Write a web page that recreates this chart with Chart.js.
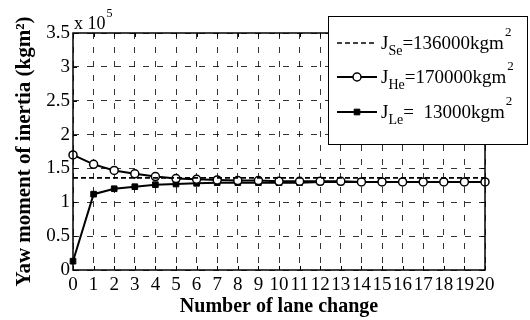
<!DOCTYPE html>
<html>
<head>
<meta charset="utf-8">
<script src="https://cdn.jsdelivr.net/npm/chart.js@4.4.0/dist/chart.umd.min.js"></script>
<style>
html,body{margin:0;padding:0;background:#fff}
</style>
</head>
<body>
<canvas id="myChart" width="530" height="320"></canvas>
<script>
// values in units of 10^5 kgm^2
var laneChanges = [0,1,2,3,4,5,6,7,8,9,10,11,12,13,14,15,16,17,18,19,20];
var jSe = [1.36,1.36,1.36,1.36,1.36,1.36,1.36,1.36,1.36,1.36,1.36,1.36,1.36,1.36,1.36,1.36,1.36,1.36,1.36,1.36,1.36];
var jHe = [1.70,1.56,1.47,1.42,1.38,1.35,1.34,1.33,1.32,1.32,1.31,1.31,1.31,1.31,1.30,1.30,1.30,1.30,1.30,1.30,1.30];
var jLe = [0.13,1.12,1.20,1.23,1.26,1.27,1.28,1.29,1.29,1.29,1.29,1.29,1.30,1.30,1.30,1.30,1.30,1.30,1.30,1.30,1.30];
var yTickLabels = ['0','0.5','1','1.5','2','2.5','3','3.5'];
var legendSubs = ['Se','He','Le'];
var legendRest = ['=136000kgm','=170000kgm','=  13000kgm'];

var serif = '"Liberation Serif", "Times New Roman", serif';
Chart.defaults.font.family = serif;
var ctx = document.getElementById('myChart').getContext('2d');

// box, inner ticks, legend and exponent label (matlab style)
var extras = {
    id: 'extras',
    afterDraw: function(chart){
        var c = chart.ctx, a = chart.chartArea;
        var xs = chart.scales.x, ys = chart.scales.y;
        c.save();
        c.strokeStyle = '#000';
        c.lineWidth = 1;
        c.setLineDash([]);
        c.beginPath();
        xs.ticks.forEach(function(t, i){
            var px = Math.round(xs.getPixelForTick(i)) + 0.5;
            c.moveTo(px, a.bottom); c.lineTo(px, a.bottom - 4);
            c.moveTo(px, a.top); c.lineTo(px, a.top + 4);
        });
        ys.ticks.forEach(function(t, i){
            var py = Math.round(ys.getPixelForTick(i)) + 0.5;
            c.moveTo(a.left, py); c.lineTo(a.left + 4, py);
            c.moveTo(a.right, py); c.lineTo(a.right - 4, py);
        });
        c.stroke();
        c.lineWidth = 1.5;
        c.strokeRect(a.left, a.top, a.right - a.left, a.bottom - a.top);

        // exponent
        c.fillStyle = '#000';
        c.textBaseline = 'alphabetic';
        c.font = '18px ' + serif;
        c.fillText('x 10', a.left + 1, a.top - 4);
        var w = c.measureText('x 10').width;
        c.font = '12px ' + serif;
        c.fillText('5', a.left + 1 + w + 1, a.top - 16);

        // legend
        var bx = 328, by = 16, bw = 199, bh = 128;
        c.fillStyle = '#fff';
        c.fillRect(bx, by, bw, bh);
        c.lineWidth = 1;
        c.strokeRect(bx + 0.5, by + 0.5, bw, bh);
        var rows = [43, 77, 112];
        chart.data.datasets.forEach(function(ds, i){
            var y = rows[i];
            c.save();
            c.strokeStyle = '#000';
            c.lineWidth = ds.borderWidth;
            c.setLineDash(ds.borderDash || []);
            c.beginPath();
            c.moveTo(337, y); c.lineTo(377, y);
            c.stroke();
            c.restore();
            if (ds.pointRadius > 0) {
                c.fillStyle = ds.pointBackgroundColor;
                c.strokeStyle = '#000';
                c.lineWidth = ds.pointBorderWidth;
                c.beginPath();
                if (ds.pointStyle === 'rect') {
                    var s = ds.pointRadius * Math.SQRT1_2;
                    c.rect(357 - s, y - s, 2 * s, 2 * s);
                } else {
                    c.arc(357, y, ds.pointRadius, 0, Math.PI * 2);
                }
                c.fill(); c.stroke();
            }
            var x = 381;
            c.fillStyle = '#000';
            c.font = '19px ' + serif;
            c.fillText('J', x, y + 6);
            x += c.measureText('J').width;
            c.font = '14px ' + serif;
            c.fillText(legendSubs[i], x, y + 12);
            x += c.measureText(legendSubs[i]).width;
            c.font = '19px ' + serif;
            c.fillText(legendRest[i], x, y + 6);
            x += c.measureText(legendRest[i]).width;
            c.font = '13px ' + serif;
            c.fillText('2', x + 1, y - 7);
        });
        c.restore();
    }
};

var chart = new Chart(ctx, {
    type: 'line',
    data: {
        labels: laneChanges,
        datasets: [{
            label: 'J_Se=136000kgm\u00b2',
            data: jSe,
            borderColor: '#000',
            borderWidth: 1.6,
            borderDash: [5, 3],
            pointRadius: 0,
            fill: false
        }, {
            label: 'J_He=170000kgm\u00b2',
            data: jHe,
            borderColor: '#000',
            borderWidth: 2,
            pointStyle: 'circle',
            pointRadius: 4,
            pointBorderWidth: 1.5,
            pointBackgroundColor: '#fff',
            pointBorderColor: '#000',
            fill: false
        }, {
            label: 'J_Le=13000kgm\u00b2',
            data: jLe,
            borderColor: '#000',
            borderWidth: 2,
            pointStyle: 'rect',
            pointRadius: 4,
            pointBorderWidth: 1,
            pointBackgroundColor: '#000',
            pointBorderColor: '#000',
            fill: false
        }]
    },
    options: {
        responsive: false,
        animation: false,
        layout: { padding: { top: 33, right: 45, left: 0, bottom: 0 } },
        plugins: { legend: { display: false }, tooltip: { enabled: false } },
        elements: { line: { tension: 0 } },
        scales: {
            x: {
                type: 'category',
                offset: false,
                grid: { color: '#000', lineWidth: 0.8, drawTicks: false },
                border: { display: false, dash: [6, 8] },
                ticks: { color: '#000', font: { family: serif, size: 19 }, padding: 4, maxRotation: 0, autoSkip: false },
                title: { display: true, text: 'Number of lane change', color: '#000', font: { family: serif, size: 20, weight: 'bold' }, padding: { top: 0, bottom: 1 } },
                afterFit: function(s){ s.height = 50; }
            },
            y: {
                min: 0, max: 3.5,
                grid: { color: '#000', lineWidth: 0.8, drawTicks: false },
                border: { display: false, dash: [6, 8] },
                ticks: {
                    stepSize: 0.5, color: '#000', font: { family: serif, size: 19 }, padding: 3,
                    callback: function(v, i){ return yTickLabels[i]; }
                },
                title: { display: true, text: 'Yaw moment of inertia (kgm\u00b2)', color: '#000', font: { family: serif, size: 21, weight: 'bold' }, padding: { top: 12, bottom: 0 } },
                afterFit: function(s){ s.width = 73; }
            }
        }
    },
    plugins: [extras]
});
</script>
</body>
</html>
